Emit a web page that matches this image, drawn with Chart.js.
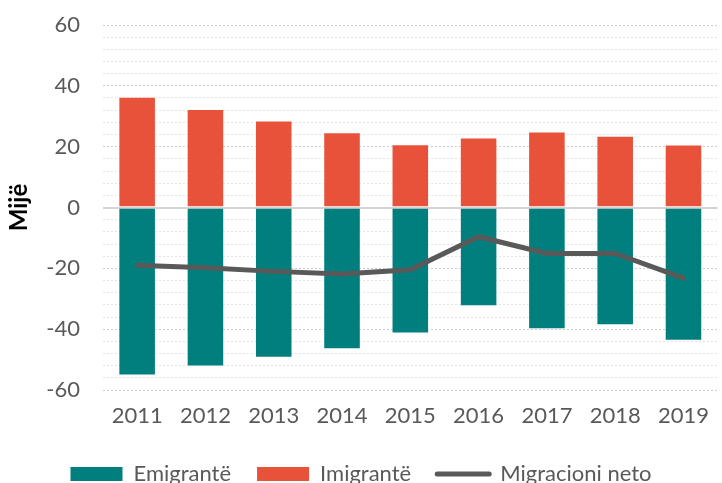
<!DOCTYPE html>
<html>
<head>
<meta charset="utf-8">
<script src="https://cdn.jsdelivr.net/npm/chart.js@4/dist/chart.umd.min.js"></script>
<style>
  html, body { margin: 0; padding: 0; background: #fff; overflow: hidden; }
  #wrap { width: 722px; height: 495px; position: relative; }
</style>
</head>
<body>
<div id="wrap"><canvas id="chart"></canvas></div>
<script>
const years = ['2011', '2012', '2013', '2014', '2015', '2016', '2017', '2018', '2019'];
const emigrants = [-55.2, -52.3, -49.4, -46.6, -41.4, -32.5, -40.0, -38.7, -43.8];
const immigrants = [36.4, 32.4, 28.6, 24.7, 20.8, 23.0, 25.0, 23.6, 20.7];
const netMigration = [-19.0, -19.8, -21.0, -21.9, -20.5, -9.6, -15.1, -15.1, -23.2];

const TEAL = '#007f7e';
const RED = '#e8523a';
const GREY = '#595959';
const FONT = 'Lato, "Open Sans", sans-serif';

new Chart(document.getElementById('chart').getContext('2d'), {
  type: 'bar',
  data: {
    labels: years,
    datasets: [{
      label: 'Emigrantë',
      data: emigrants,
      backgroundColor: TEAL,
      borderColor: 'rgba(255,255,255,0.35)',
      borderWidth: 1,
      stack: 'mig',
      order: 1
    }, {
      label: 'Imigrantë',
      data: immigrants,
      backgroundColor: RED,
      borderColor: 'rgba(255,255,255,0.35)',
      borderWidth: 1,
      stack: 'mig',
      order: 1
    }, {
      type: 'line',
      label: 'Migracioni neto',
      data: netMigration,
      borderColor: GREY,
      backgroundColor: GREY,
      borderWidth: 5,
      borderCapStyle: 'round',
      pointRadius: 0,
      tension: 0,
      stack: 'net',
      order: 0
    }]
  },
  options: {
    responsive: true,
    maintainAspectRatio: false,
    animation: false,
    layout: { padding: { top: 25, left: 0, right: 0, bottom: 0 } },
    datasets: {
      bar: { categoryPercentage: 1, barPercentage: 0.55 }
    },
    scales: {
      x: {
        stacked: true,
        grid: { display: false, drawTicks: false },
        border: { display: false },
        ticks: {
          color: GREY,
          font: { family: FONT, size: 22 },
          padding: 13,
          maxRotation: 0
        },
        afterFit(scale) { scale.height = 47; }
      },
      y: {
        stacked: true,
        min: -60,
        max: 60,
        border: {
          display: false,
          dash: (ctx) => ctx.tick && ctx.tick.value === 0 ? [] : [2, 2]
        },
        grid: {
          drawTicks: false,
          color: (ctx) => {
            const v = ctx.tick ? ctx.tick.value : 1;
            if (v === 0) return '#d4d4d4';
            return v % 20 === 0 ? '#cfcfcf' : '#e4e4e4';
          },
          lineWidth: (ctx) => ctx.tick && ctx.tick.value === 0 ? 2 : 1
        },
        ticks: {
          stepSize: 4,
          autoSkip: false,
          color: GREY,
          font: { family: FONT, size: 22 },
          padding: 23,
          callback: (v) => v % 20 === 0 ? String(v) : ''
        },
        title: {
          display: true,
          text: 'Mijë',
          color: '#000',
          font: { family: FONT, size: 24, weight: 'bold' },
          padding: { top: 5, bottom: 0 }
        },
        afterFit(scale) {
          scale.width = 103;
          scale.paddingTop = 0;
          scale.paddingBottom = 0;
        }
      }
    },
    plugins: {
      tooltip: { enabled: false },
      legend: {
        position: 'bottom',
        labels: {
          usePointStyle: true,
          pointStyleWidth: 52,
          boxHeight: 14,
          padding: 26,
          color: GREY,
          font: { family: FONT, size: 22 },
          sort: (a, b) => a.datasetIndex - b.datasetIndex,
          generateLabels(chart) {
            return chart.data.datasets.map((ds, i) => ({
              text: ds.label,
              datasetIndex: i,
              fillStyle: ds.type === 'line' ? ds.borderColor : ds.backgroundColor,
              strokeStyle: ds.type === 'line' ? ds.borderColor : ds.backgroundColor,
              lineWidth: ds.type === 'line' ? 5 : 0,
              lineCap: 'round',
              pointStyle: ds.type === 'line' ? 'line' : 'rect',
              fontColor: GREY,
              hidden: false
            }));
          }
        }
      }
    }
  }
});
</script>
</body>
</html>
